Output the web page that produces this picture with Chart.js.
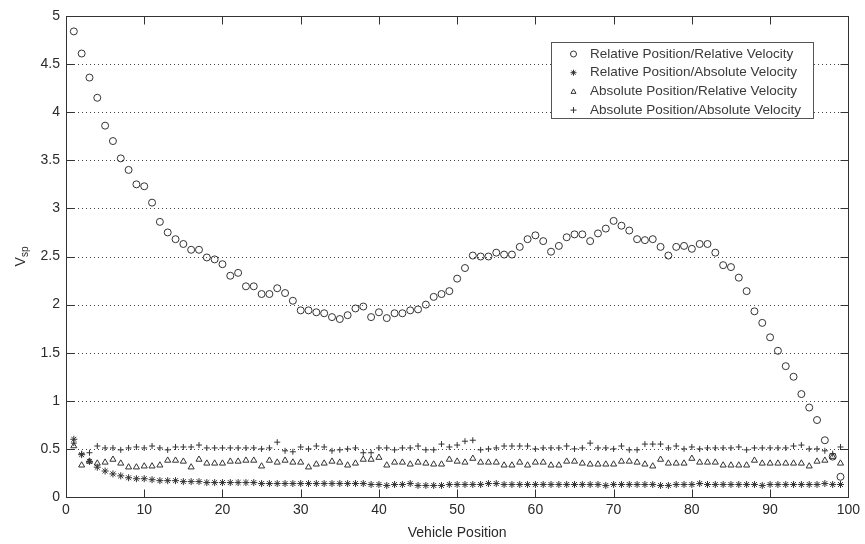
<!DOCTYPE html>
<html>
  <head>
    <title></title>
    <meta charset="utf-8" />
    <script src="https://cdn.jsdelivr.net/npm/chart.js@4.4.1/dist/chart.umd.min.js"></script>
    <style>
      body { margin: 0; background: #fff; }
    </style>
  </head>
  <body>
    <canvas id="chart" width="865" height="544"></canvas>
    <script>
      const positions = [
        1, 2, 3, 4, 5, 6, 7, 8, 9, 10, 11, 12, 13, 14, 15, 16, 17, 18, 19, 20,
        21, 22, 23, 24, 25, 26, 27, 28, 29, 30, 31, 32, 33, 34, 35, 36, 37, 38, 39, 40,
        41, 42, 43, 44, 45, 46, 47, 48, 49, 50, 51, 52, 53, 54, 55, 56, 57, 58, 59, 60,
        61, 62, 63, 64, 65, 66, 67, 68, 69, 70, 71, 72, 73, 74, 75, 76, 77, 78, 79, 80,
        81, 82, 83, 84, 85, 86, 87, 88, 89, 90, 91, 92, 93, 94, 95, 96, 97, 98, 99
      ];

      const relPosRelVel = [
        4.84, 4.61, 4.36, 4.15, 3.86, 3.70, 3.52, 3.40, 3.25, 3.23,
        3.06, 2.86, 2.75, 2.68, 2.63, 2.57, 2.57, 2.49, 2.47, 2.42,
        2.30, 2.33, 2.19, 2.19, 2.11, 2.11, 2.17, 2.12, 2.04, 1.94,
        1.94, 1.92, 1.91, 1.87, 1.85, 1.89, 1.96, 1.98, 1.87, 1.92,
        1.86, 1.91, 1.91, 1.94, 1.95, 2.00, 2.08, 2.11, 2.14, 2.27,
        2.38, 2.51, 2.50, 2.50, 2.54, 2.52, 2.52, 2.60, 2.68, 2.72,
        2.66, 2.55, 2.61, 2.70, 2.73, 2.73, 2.66, 2.74, 2.79, 2.87,
        2.82, 2.77, 2.68, 2.67, 2.68, 2.60, 2.51, 2.60, 2.61, 2.58,
        2.63, 2.63, 2.54, 2.41, 2.39, 2.28, 2.14, 1.93, 1.81, 1.66,
        1.52, 1.36, 1.25, 1.07, 0.93, 0.80, 0.59, 0.42, 0.21
      ];

      const relPosAbsVel = [
        0.60, 0.44, 0.37, 0.31, 0.27, 0.24, 0.22, 0.20, 0.19, 0.19,
        0.18, 0.17, 0.17, 0.17, 0.16, 0.16, 0.16, 0.15, 0.15, 0.15,
        0.15, 0.15, 0.15, 0.15, 0.14, 0.14, 0.14, 0.14, 0.14, 0.14,
        0.14, 0.14, 0.14, 0.14, 0.14, 0.14, 0.14, 0.14, 0.13, 0.13,
        0.12, 0.13, 0.13, 0.14, 0.12, 0.12, 0.12, 0.12, 0.13, 0.13,
        0.13, 0.13, 0.13, 0.14, 0.14, 0.13, 0.13, 0.13, 0.13, 0.13,
        0.13, 0.13, 0.13, 0.13, 0.13, 0.13, 0.13, 0.13, 0.12, 0.13,
        0.13, 0.13, 0.13, 0.13, 0.13, 0.12, 0.12, 0.13, 0.13, 0.13,
        0.14, 0.13, 0.13, 0.13, 0.13, 0.13, 0.13, 0.13, 0.12, 0.13,
        0.13, 0.13, 0.13, 0.13, 0.13, 0.13, 0.14, 0.13, 0.13
      ];

      const absPosRelVel = [
        0.53, 0.33, 0.37, 0.35, 0.36, 0.39, 0.35, 0.31, 0.31, 0.32,
        0.32, 0.33, 0.38, 0.38, 0.37, 0.31, 0.39, 0.35, 0.35, 0.35,
        0.37, 0.37, 0.38, 0.38, 0.32, 0.38, 0.36, 0.38, 0.36, 0.36,
        0.31, 0.34, 0.35, 0.37, 0.36, 0.33, 0.35, 0.39, 0.39, 0.41,
        0.33, 0.36, 0.36, 0.34, 0.36, 0.35, 0.34, 0.34, 0.39, 0.37,
        0.36, 0.40, 0.36, 0.36, 0.36, 0.33, 0.33, 0.36, 0.33, 0.36,
        0.36, 0.33, 0.33, 0.37, 0.37, 0.35, 0.34, 0.34, 0.34, 0.34,
        0.37, 0.37, 0.36, 0.34, 0.32, 0.39, 0.35, 0.35, 0.35, 0.40,
        0.36, 0.36, 0.36, 0.33, 0.33, 0.33, 0.33, 0.38, 0.35, 0.35,
        0.35, 0.35, 0.35, 0.35, 0.32, 0.37, 0.38, 0.42, 0.35
      ];

      const absPosAbsVel = [
        0.56, 0.45, 0.46, 0.53, 0.51, 0.51, 0.49, 0.51, 0.52, 0.51,
        0.53, 0.51, 0.49, 0.52, 0.52, 0.52, 0.54, 0.51, 0.51, 0.51,
        0.51, 0.51, 0.51, 0.51, 0.50, 0.51, 0.57, 0.48, 0.47, 0.52,
        0.50, 0.53, 0.52, 0.48, 0.49, 0.50, 0.51, 0.46, 0.46, 0.51,
        0.51, 0.49, 0.51, 0.51, 0.53, 0.49, 0.49, 0.55, 0.52, 0.54,
        0.58, 0.59, 0.49, 0.50, 0.51, 0.53, 0.53, 0.53, 0.53, 0.50,
        0.51, 0.51, 0.51, 0.53, 0.50, 0.51, 0.56, 0.51, 0.51, 0.50,
        0.53, 0.49, 0.49, 0.55, 0.55, 0.55, 0.51, 0.53, 0.50, 0.52,
        0.50, 0.51, 0.51, 0.51, 0.51, 0.52, 0.49, 0.51, 0.51, 0.51,
        0.51, 0.51, 0.53, 0.54, 0.50, 0.50, 0.48, 0.45, 0.52
      ];

      const seriesLabels = [
        "Relative Position/Relative Velocity",
        "Relative Position/Absolute Velocity",
        "Absolute Position/Relative Velocity",
        "Absolute Position/Absolute Velocity"
      ];

      const FONT = "'Liberation Sans', Arial, Helvetica, sans-serif";
      const INK = "#333";

      const toPoints = values => values.map((y, i) => ({ x: positions[i], y }));

      const markers = [
        { data: relPosRelVel, style: "circle", radius: 3.5 },
        { data: relPosAbsVel, style: "star", radius: 3.5 },
        { data: absPosRelVel, style: "triangle", radius: 3.5 },
        { data: absPosAbsVel, style: "cross", radius: 3 }
      ];

      function drawMarker(ctx, style, x, y, r) {
        ctx.beginPath();
        if (style === "circle") {
          ctx.arc(x, y, r, 0, Math.PI * 2);
        } else if (style === "triangle") {
          ctx.moveTo(x, y - r);
          ctx.lineTo(x + r, y + r * 0.8);
          ctx.lineTo(x - r, y + r * 0.8);
          ctx.closePath();
        } else if (style === "cross") {
          ctx.moveTo(x - r, y); ctx.lineTo(x + r, y);
          ctx.moveTo(x, y - r); ctx.lineTo(x, y + r);
        } else if (style === "star") {
          const d = r * 0.707;
          ctx.moveTo(x - r, y); ctx.lineTo(x + r, y);
          ctx.moveTo(x, y - r); ctx.lineTo(x, y + r);
          ctx.moveTo(x - d, y - d); ctx.lineTo(x + d, y + d);
          ctx.moveTo(x - d, y + d); ctx.lineTo(x + d, y - d);
        }
        ctx.stroke();
      }

      const matlabAxes = {
        id: "matlabAxes",
        beforeDatasetsDraw(chart) {
          const { ctx, chartArea: a, scales } = chart;
          ctx.save();
          ctx.strokeStyle = "#444";
          ctx.lineWidth = 1;
          ctx.setLineDash([1, 3]);
          scales.y.ticks.forEach(t => {
            if (t.value <= 0 || t.value >= 5) return;
            const py = Math.round(scales.y.getPixelForValue(t.value)) + 0.5;
            ctx.beginPath();
            ctx.moveTo(a.left, py);
            ctx.lineTo(a.right, py);
            ctx.stroke();
          });
          ctx.restore();
        },
        afterDatasetsDraw(chart) {
          const { ctx, chartArea: a, scales } = chart;
          const L = Math.round(a.left) + 0.5;
          const R = Math.round(a.right) + 0.5;
          const T = Math.round(a.top) + 0.5;
          const B = Math.round(a.bottom) + 0.5;
          ctx.save();
          ctx.strokeStyle = "#333";
          ctx.lineWidth = 1;
          ctx.beginPath();
          scales.x.ticks.forEach(t => {
            const px = Math.round(scales.x.getPixelForValue(t.value)) + 0.5;
            ctx.moveTo(px, B); ctx.lineTo(px, B - 8);
            ctx.moveTo(px, T); ctx.lineTo(px, T + 8);
          });
          scales.y.ticks.forEach(t => {
            const py = Math.round(scales.y.getPixelForValue(t.value)) + 0.5;
            ctx.moveTo(L, py); ctx.lineTo(L + 8, py);
            ctx.moveTo(R, py); ctx.lineTo(R - 8, py);
          });
          ctx.stroke();
          ctx.strokeRect(L, T, R - L, B - T);

          // legend box
          const bx = 551.5, by = 42.5, bw = 262, bh = 76;
          ctx.fillStyle = "#fff";
          ctx.fillRect(bx, by, bw, bh);
          ctx.strokeStyle = "#555";
          ctx.strokeRect(bx, by, bw, bh);
          ctx.font = "13.5px " + FONT;
          ctx.textBaseline = "middle";
          ctx.textAlign = "left";
          seriesLabels.forEach((label, i) => {
            const ry = 54 + i * 18.7;
            ctx.strokeStyle = INK;
            drawMarker(ctx, markers[i].style, 573.5, ry, i === 2 ? 2.5 : 3);
            ctx.fillStyle = "#3a3a3a";
            ctx.fillText(label, 590, ry);
          });

          // axis titles
          ctx.fillStyle = "#2a2a2a";
          ctx.font = "14px " + FONT;
          ctx.textAlign = "center";
          ctx.textBaseline = "middle";
          ctx.fillText("Vehicle Position", (a.left + a.right) / 2, 533);
          ctx.save();
          ctx.translate(21, (a.top + a.bottom) / 2);
          ctx.rotate(-Math.PI / 2);
          ctx.textAlign = "left";
          ctx.font = "14px " + FONT;
          const vw = ctx.measureText("V").width;
          ctx.font = "10px " + FONT;
          const sw = ctx.measureText("sp").width;
          const start = -(vw + sw) / 2;
          ctx.font = "14px " + FONT;
          ctx.fillText("V", start, 0);
          ctx.font = "10px " + FONT;
          ctx.fillText("sp", start + vw, 4);
          ctx.restore();
          ctx.restore();
        }
      };

      new Chart(document.getElementById("chart"), {
        type: "scatter",
        data: {
          datasets: markers.map((m, i) => ({
            label: seriesLabels[i],
            data: toPoints(m.data),
            pointStyle: m.style,
            pointRadius: m.radius,
            pointHoverRadius: m.radius,
            pointBorderWidth: 1,
            borderColor: INK,
            backgroundColor: "rgba(0,0,0,0)",
            showLine: false
          }))
        },
        options: {
          responsive: false,
          animation: false,
          devicePixelRatio: 1,
          layout: { padding: { top: 16, right: 15, left: 0, bottom: 0 } },
          plugins: {
            legend: { display: false },
            tooltip: { enabled: false }
          },
          scales: {
            x: {
              type: "linear",
              min: 0,
              max: 100,
              grid: { display: false, drawTicks: false },
              border: { display: false },
              ticks: {
                stepSize: 10,
                padding: 5,
                color: "#2a2a2a",
                font: { family: FONT, size: 14 },
                callback: v => String(v)
              },
              afterFit: s => { s.height = 47; }
            },
            y: {
              min: 0,
              max: 5,
              grid: { display: false, drawTicks: false },
              border: { display: false },
              ticks: {
                stepSize: 0.5,
                padding: 6,
                color: "#2a2a2a",
                font: { family: FONT, size: 14 },
                callback: v => String(v)
              },
              afterFit: s => { s.width = 66; }
            }
          }
        },
        plugins: [matlabAxes]
      });
    </script>
  </body>
</html>
